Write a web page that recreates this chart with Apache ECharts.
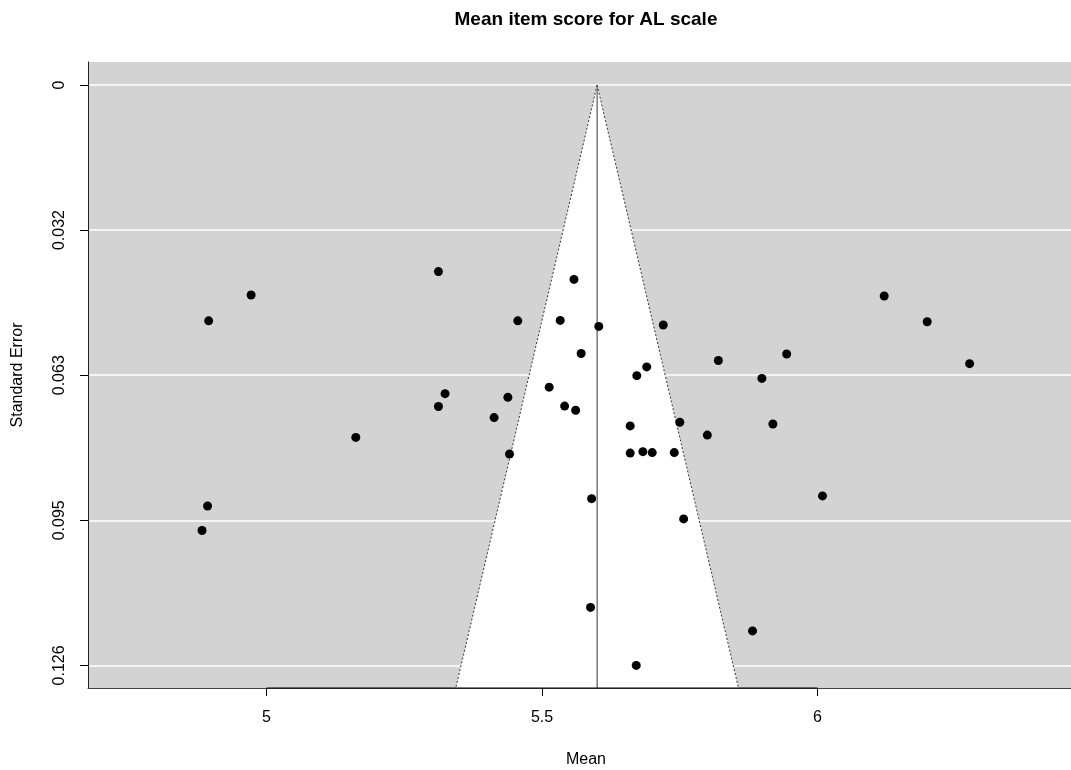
<!DOCTYPE html>
<html>
<head>
<meta charset="utf-8">
<script src="https://cdn.jsdelivr.net/npm/echarts@6/dist/echarts.min.js"></script>
<style>
  html, body { margin: 0; padding: 0; background: #fff; }
  #chart { width: 1071px; height: 770px; }
</style>
</head>
<body>
<div id="chart"></div>
<script>
// Study-level mean item scores and their standard errors
const meanValues = [
  4.972, 4.895, 5.312, 5.558, 5.456, 5.533, 5.603, 5.720, 6.121, 6.199,
  6.276, 5.571, 5.820, 5.944, 5.690, 5.672, 5.899, 5.513, 5.324, 5.438,
  5.312, 5.541, 5.561, 5.413, 5.162, 5.660, 5.750, 5.919, 5.800, 5.441,
  5.660, 5.683, 5.700, 5.740, 4.893, 4.883, 5.590, 6.009, 5.757, 5.588,
  5.882, 5.671
];
const seValues = [
  0.0456, 0.0512, 0.0405, 0.0422, 0.0512, 0.0511, 0.0524, 0.0521, 0.0458, 0.0514,
  0.0605, 0.0583, 0.0598, 0.0584, 0.0612, 0.0631, 0.0637, 0.0656, 0.0670, 0.0678,
  0.0698, 0.0697, 0.0706, 0.0722, 0.0765, 0.0740, 0.0732, 0.0736, 0.0760, 0.0801,
  0.0799, 0.0796, 0.0798, 0.0798, 0.0914, 0.0967, 0.0898, 0.0892, 0.0942, 0.1134,
  0.1185, 0.1260
];

// Pooled estimate at the funnel apex
const pooledMean = 5.6;
const zCrit = 1.96;

// Axis ticks and their printed labels
const meanTicks = [5, 5.5, 6];
const meanTickLabels = ['5', '5.5', '6'];
const seTicks = [0, 0.0315, 0.063, 0.0945, 0.126];
const seTickLabels = ['0', '0.032', '0.063', '0.095', '0.126'];

// Axis ranges
const xMin = 4.676, xMax = 6.460;
const yMin = -0.00499, yMax = 0.1309;

const points = meanValues.map((m, i) => [m, seValues[i]]);
const fontFamily = '"Liberation Sans", Arial, Helvetica, sans-serif';

function lookupLabel(ticks, labels, v) {
  const i = ticks.findIndex(t => Math.abs(t - v) < 1e-9);
  return i >= 0 ? labels[i] : '';
}

const chart = echarts.init(document.getElementById('chart'), null, { renderer: 'canvas' });

chart.setOption({
  animation: false,
  backgroundColor: '#ffffff',
  textStyle: { fontFamily: fontFamily },
  grid: {
    left: 88, right: 0, top: 62, bottom: 82,
    show: true, backgroundColor: '#d3d3d3', borderWidth: 0
  },
  xAxis: {
    type: 'value', min: xMin, max: xMax,
    axisLine: { show: true, onZero: false, lineStyle: { color: '#444', width: 1 } },
    axisTick: { show: true, length: 8, customValues: meanTicks, lineStyle: { color: '#000', width: 1 } },
    axisLabel: {
      customValues: meanTicks, margin: 22, fontSize: 16, color: '#000', fontFamily: fontFamily,
      formatter: v => lookupLabel(meanTicks, meanTickLabels, v)
    },
    splitLine: { show: false }
  },
  yAxis: {
    type: 'value', inverse: true, min: yMin, max: yMax,
    axisLine: { show: true, onZero: false, lineStyle: { color: '#222', width: 1 } },
    axisTick: { show: true, length: 8, customValues: seTicks, lineStyle: { color: '#000', width: 1 } },
    axisLabel: {
      customValues: seTicks, rotate: 90, margin: 20, fontSize: 16, color: '#000', fontFamily: fontFamily,
      formatter: v => lookupLabel(seTicks, seTickLabels, v)
    },
    splitLine: { show: true, lineStyle: { color: '#ffffff', width: 1.5 } }
  },
  graphic: [
    {
      type: 'text', x: 586, y: 20,
      style: { text: 'Mean item score for AL scale', font: 'bold 19px ' + fontFamily,
               fill: '#000', textAlign: 'center', textVerticalAlign: 'middle' }
    },
    {
      type: 'text', x: 586, y: 760,
      style: { text: 'Mean', font: '16px ' + fontFamily,
               fill: '#000', textAlign: 'center', textVerticalAlign: 'middle' }
    },
    {
      type: 'text', x: 18, y: 375, rotation: Math.PI / 2,
      style: { text: 'Standard Error', font: '16px ' + fontFamily,
               fill: '#000', textAlign: 'center', textVerticalAlign: 'middle' }
    }
  ],
  series: [
    {
      // pseudo-confidence region: white funnel with dotted limits and centre line
      type: 'custom',
      z: 2,
      silent: true,
      clip: true,
      data: [[pooledMean, yMax]],
      renderItem: function (params, api) {
        const apex = api.coord([pooledMean, 0]);
        const lo = api.coord([pooledMean - zCrit * yMax, yMax]);
        const hi = api.coord([pooledMean + zCrit * yMax, yMax]);
        const base = api.coord([pooledMean, yMax]);
        return {
          type: 'group',
          children: [
            { type: 'polygon', shape: { points: [apex, lo, hi] },
              style: { fill: '#ffffff', stroke: null } },
            { type: 'line', shape: { x1: apex[0], y1: apex[1], x2: lo[0], y2: lo[1] },
              style: { stroke: '#333', lineWidth: 1, lineDash: [2, 2] } },
            { type: 'line', shape: { x1: apex[0], y1: apex[1], x2: hi[0], y2: hi[1] },
              style: { stroke: '#333', lineWidth: 1, lineDash: [2, 2] } },
            { type: 'line', shape: { x1: apex[0], y1: apex[1], x2: base[0], y2: base[1] },
              style: { stroke: '#555', lineWidth: 1.2 } }
          ]
        };
      }
    },
    {
      // axis segment spanning the labelled ticks
      type: 'line', z: 3, silent: true, clip: false,
      symbol: 'none',
      data: [[meanTicks[0], yMax], [meanTicks[meanTicks.length - 1], yMax]],
      lineStyle: { color: '#000', width: 1.2 }
    },
    {
      type: 'scatter', z: 4,
      symbol: 'circle', symbolSize: 9,
      itemStyle: { color: '#000', opacity: 1 },
      data: points
    }
  ]
});
</script>
</body>
</html>
